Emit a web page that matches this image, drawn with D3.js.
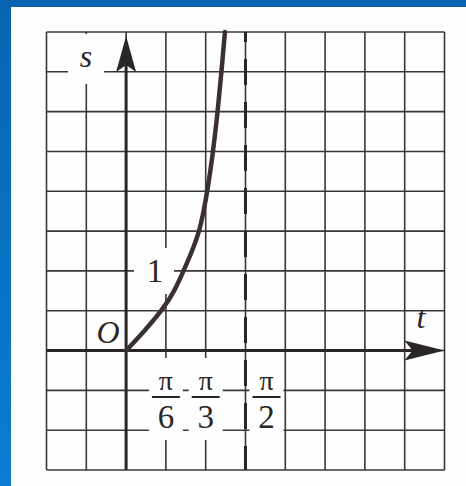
<!DOCTYPE html>
<html lang="ru">
<head>
<meta charset="UTF-8">
<title>s = tg t</title>
<script src="https://cdnjs.cloudflare.com/ajax/libs/d3/7.8.5/d3.min.js"></script>
<style>
  html, body { margin: 0; padding: 0; }
  body { width: 466px; height: 486px; overflow: hidden; }
  svg { display: block; }
  text { font-family: "Liberation Serif", "DejaVu Serif", serif; fill: #2b2626; }
</style>
</head>
<body>
<svg id="chart" width="466" height="486"></svg>
<script>
// curve points (t in radians, s value)
const tPoints = [0, 0.245, 0.47, 0.64, 0.755, 0.87, 0.965, 1.02, 1.07, 1.145, 1.205, 1.255, 1.30];
const sPoints = [0, 0.25, 0.5, 0.75, 1.0, 1.25, 1.5, 1.75, 2.0, 2.5, 3.0, 3.5, 4.0];

// grid: t steps of pi/6 from -pi/3 to 4pi/3, s steps of 0.5 from -1.5 to 4
const tGrid = d3.range(-2, 9).map(k => k * Math.PI / 6);
const sGrid = d3.range(-3, 9).map(k => k * 0.5);

// tick labels under the t axis
const fracTicks = [
  { t: Math.PI / 6, den: "6", dx: 0 },
  { t: Math.PI / 3, den: "3", dx: 0 },
  { t: Math.PI / 2, den: "2", dx: 21 }
];

const svg = d3.select("#chart");

// blue frame + white page
const defs = svg.append("defs");
const grad = defs.append("linearGradient").attr("id", "bg").attr("x1", 0).attr("y1", 0).attr("x2", 0).attr("y2", 1);
grad.append("stop").attr("offset", "0%").attr("stop-color", "#0864b2");
grad.append("stop").attr("offset", "100%").attr("stop-color", "#0a7dd2");
svg.append("rect").attr("width", 466).attr("height", 486).attr("fill", "url(#bg)");
svg.append("rect").attr("x", 11).attr("y", 7).attr("width", 455).attr("height", 479).attr("fill", "#fefefe");

const x = d3.scaleLinear().domain([-Math.PI / 3, 4 * Math.PI / 3]).range([46.5, 444.5]);
const y = d3.scaleLinear().domain([-1.5, 4]).range([470, 32]);

// grid
const grid = svg.append("g").attr("stroke", "#3a3636").attr("stroke-width", 1.6);
grid.selectAll("line.v").data(tGrid).join("line")
  .attr("class", "v")
  .attr("x1", d => x(d)).attr("x2", d => x(d))
  .attr("y1", y(4)).attr("y2", y(-1.5));
grid.selectAll("line.h").data(sGrid).join("line")
  .attr("class", "h")
  .attr("x1", x(-Math.PI / 3)).attr("x2", x(4 * Math.PI / 3))
  .attr("y1", d => y(d)).attr("y2", d => y(d));

// white patches behind labels
const patches = [
  [68, 34, 36, 50],    // s
  [407, 313, 35, 26],  // t
  [134, 248, 40, 46]   // 1
];
fracTicks.forEach(f => {
  const cx = x(f.t) + f.dx;
  patches.push([cx - 17, 358, 34, 82]);
});
svg.append("g").selectAll("rect").data(patches).join("rect")
  .attr("x", d => d[0]).attr("y", d => d[1])
  .attr("width", d => d[2]).attr("height", d => d[3])
  .attr("fill", "#fefefe");

// asymptote t = pi/2
svg.append("line")
  .attr("x1", x(Math.PI / 2)).attr("x2", x(Math.PI / 2))
  .attr("y1", y(4)).attr("y2", y(-1.5))
  .attr("stroke", "#2b2626").attr("stroke-width", 3)
  .attr("stroke-dasharray", "26 17").attr("stroke-dashoffset", 16);

// axes
const axes = svg.append("g").attr("stroke", "#2b2626").attr("stroke-width", 3);
axes.append("line")
  .attr("x1", x(-Math.PI / 3)).attr("x2", x(4 * Math.PI / 3) - 20)
  .attr("y1", y(0)).attr("y2", y(0));
axes.append("line")
  .attr("x1", x(0)).attr("x2", x(0))
  .attr("y1", y(-1.5)).attr("y2", y(4) + 20);

// arrow heads
const xa = x(4 * Math.PI / 3), ya = y(0);
svg.append("path")
  .attr("d", `M${xa},${ya} L${xa - 40},${ya - 10} L${xa - 32},${ya} L${xa - 40},${ya + 10} Z`)
  .attr("fill", "#2b2626");
const xb = x(0), yb = y(4) + 4;
svg.append("path")
  .attr("d", `M${xb},${yb} L${xb - 10},${yb + 36} L${xb},${yb + 29} L${xb + 10},${yb + 36} Z`)
  .attr("fill", "#2b2626");

// tangent curve
const pts = tPoints.map((t, i) => [t, sPoints[i]]);
svg.append("path")
  .datum(pts)
  .attr("d", d3.line().x(d => x(d[0])).y(d => y(d[1])).curve(d3.curveBasis))
  .attr("fill", "none")
  .attr("stroke", "#3a3030")
  .attr("stroke-width", 4.5)
  .attr("stroke-linecap", "round");

// labels
svg.append("text").attr("x", 86).attr("y", 67).attr("text-anchor", "middle")
  .attr("font-size", 32).attr("font-style", "italic").text("s");
svg.append("text").attr("x", 421).attr("y", 328).attr("text-anchor", "middle")
  .attr("font-size", 32).attr("font-style", "italic").text("t");
svg.append("text").attr("x", 108).attr("y", 343).attr("text-anchor", "middle")
  .attr("font-size", 32).attr("font-style", "italic").text("O");
svg.append("text").attr("x", 155).attr("y", 282).attr("text-anchor", "middle")
  .attr("font-size", 33).text("1");

const fr = svg.append("g").selectAll("g").data(fracTicks).join("g")
  .attr("transform", d => `translate(${x(d.t) + d.dx},0)`);
fr.append("text").attr("y", 390).attr("text-anchor", "middle").attr("font-size", 28).text("π");
fr.append("line").attr("x1", -14).attr("x2", 14).attr("y1", 397).attr("y2", 397)
  .attr("stroke", "#2b2626").attr("stroke-width", 2);
fr.append("text").attr("y", 428).attr("text-anchor", "middle").attr("font-size", 33).text(d => d.den);
</script>
</body>
</html>
